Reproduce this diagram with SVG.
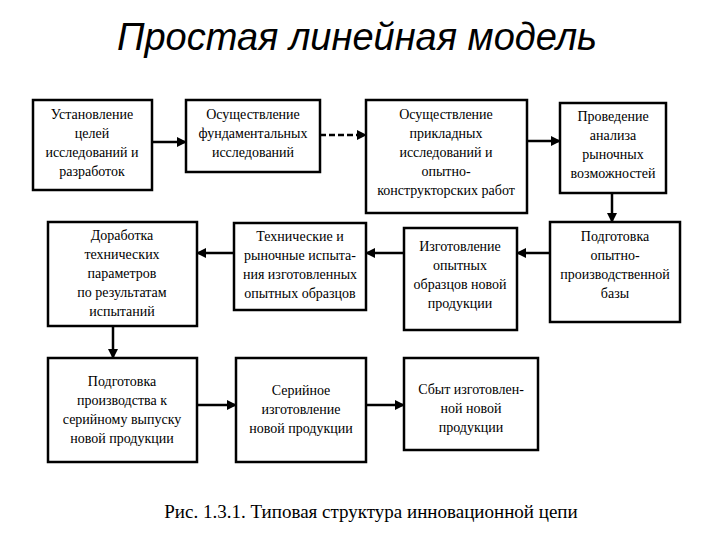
<svg xmlns="http://www.w3.org/2000/svg" width="720" height="540" viewBox="0 0 720 540">
<style>
.b{fill:#fff;stroke:#000;stroke-width:2.5}
.t{font-family:'Liberation Serif','Times New Roman',serif;font-size:14px;text-anchor:middle;fill:#000}
.c{stroke:#000;stroke-width:2.5;fill:none;marker-end:url(#a)}
</style>
<defs><marker id="a" markerWidth="10" markerHeight="10" refX="8" refY="5" orient="auto" markerUnits="userSpaceOnUse"><path d="M0,0L10,5L0,10z" fill="#000"/></marker></defs>
<rect width="720" height="540" fill="#fff"/>
<text x="357" y="50" font-family="Liberation Sans,sans-serif" font-style="italic" font-size="38" text-anchor="middle">Простая линейная модель</text>
<g id="n1"><rect class="b" x="33" y="100" width="119" height="90"/><text class="t" x="92" y="119">Установление<tspan x="92" dy="19">целей</tspan><tspan x="92" dy="19">исследований и</tspan><tspan x="92" dy="19">разработок</tspan></text></g>
<g id="n2"><rect class="b" x="186" y="100" width="134" height="72"/><text class="t" x="253" y="119">Осуществление<tspan x="253" dy="19">фундаментальных</tspan><tspan x="253" dy="19">исследований</tspan></text></g>
<g id="n3"><rect class="b" x="366" y="100" width="161" height="113"/><text class="t" x="446" y="119">Осуществление<tspan x="446" dy="19">прикладных</tspan><tspan x="446" dy="19">исследований и</tspan><tspan x="446" dy="19">опытно-</tspan><tspan x="446" dy="19">конструкторских работ</tspan></text></g>
<g id="n4"><rect class="b" x="560" y="103" width="106" height="90"/><text class="t" x="613" y="121">Проведение<tspan x="613" dy="19">анализа</tspan><tspan x="613" dy="19">рыночных</tspan><tspan x="613" dy="19">возможностей</tspan></text></g>
<g id="n5"><rect class="b" x="48" y="222" width="149" height="104"/><text class="t" x="122" y="240">Доработка<tspan x="122" dy="19">технических</tspan><tspan x="122" dy="19">параметров</tspan><tspan x="122" dy="19">по результатам</tspan><tspan x="122" dy="19">испытаний</tspan></text></g>
<g id="n6"><rect class="b" x="234" y="223" width="132" height="87"/><text class="t" x="300" y="241">Технические и<tspan x="300" dy="19">рыночные испыта-</tspan><tspan x="300" dy="19">ния изготовленных</tspan><tspan x="300" dy="19">опытных образцов</tspan></text></g>
<g id="n7"><rect class="b" x="404" y="228" width="113" height="102"/><text class="t" x="460" y="251">Изготовление<tspan x="460" dy="19">опытных</tspan><tspan x="460" dy="19">образцов новой</tspan><tspan x="460" dy="19">продукции</tspan></text></g>
<g id="n8"><rect class="b" x="550" y="222" width="130" height="100"/><text class="t" x="615" y="241">Подготовка<tspan x="615" dy="19">опытно-</tspan><tspan x="615" dy="19">производственной</tspan><tspan x="615" dy="19">базы</tspan></text></g>
<g id="n9"><rect class="b" x="48" y="358" width="149" height="104"/><text class="t" x="122" y="386">Подготовка<tspan x="122" dy="19">производства к</tspan><tspan x="122" dy="19">серийному выпуску</tspan><tspan x="122" dy="19">новой продукции</tspan></text></g>
<g id="n10"><rect class="b" x="236" y="358" width="130" height="104"/><text class="t" x="301" y="395">Серийное<tspan x="301" dy="19">изготовление</tspan><tspan x="301" dy="19">новой продукции</tspan></text></g>
<g id="n11"><rect class="b" x="404" y="358" width="134" height="92"/><text class="t" x="471" y="394">Сбыт изготовлен-<tspan x="471" dy="19">ной новой</tspan><tspan x="471" dy="19">продукции</tspan></text></g>
<g id="connectors">
<line class="c" x1="152" y1="142" x2="185" y2="142"/>
<line class="c" x1="320" y1="135" x2="365" y2="135" stroke-dasharray="6,3"/>
<line class="c" x1="527" y1="141" x2="559" y2="141"/>
<line class="c" x1="612" y1="193" x2="612" y2="221"/>
<line class="c" x1="550" y1="253" x2="518" y2="253"/>
<line class="c" x1="404" y1="253" x2="367" y2="253"/>
<line class="c" x1="234" y1="253" x2="198" y2="253"/>
<line class="c" x1="113" y1="326" x2="113" y2="357"/>
<line class="c" x1="197" y1="405" x2="235" y2="405"/>
<line class="c" x1="366" y1="405" x2="403" y2="405"/>
</g>
<text x="371" y="518" font-family="Liberation Serif,serif" font-size="19" text-anchor="middle">Рис. 1.3.1. Типовая структура инновационной цепи</text>
</svg>
